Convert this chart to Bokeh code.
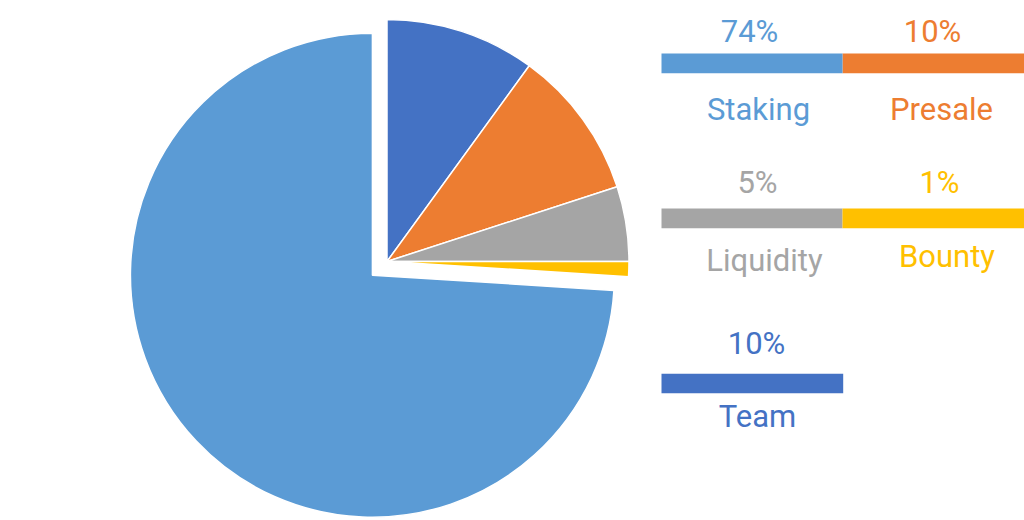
import numpy as np
from bokeh.plotting import figure
from bokeh.models import ColumnDataSource, Range1d
from bokeh.core.properties import value
from bokeh.embed import file_html
from bokeh.resources import INLINE

# ---- data ----
categories = ["Team", "Presale", "Liquidity", "Bounty", "Staking"]
shares = [10, 10, 5, 1, 74]
pct_labels = ["10%", "10%", "5%", "1%", "74%"]
colors = ["#4472C4", "#ED7D31", "#A5A5A5", "#FFC000", "#5B9BD5"]
explode = [0, 0, 0, 0, 20]

# ---- layout (screen pixels, converted below) ----
W, H = 1024, 520
TEXT_SHIFT = 10  # compensation for svg baseline placement

def sx(x):
    return x
def sy(y):
    return H - y

pie_cx, pie_cy, pie_r = 386.5, 261.0, 242.0

bar_box = {
    "Staking":   (661, 842, 53, 72.7),
    "Presale":   (842, 1024, 53, 72.7),
    "Liquidity": (661, 842, 208, 227.7),
    "Bounty":    (842, 1024, 208, 227.7),
    "Team":      (661, 842.7, 373.3, 392.7),
}
val_pos = {
    "Staking": (749, 40.7), "Presale": (932, 40.7),
    "Liquidity": (757, 192.3), "Bounty": (939, 192.3),
    "Team": (756, 353.3),
}
lab_pos = {
    "Staking": (758, 119.3), "Presale": (941, 119.3),
    "Liquidity": (764, 270.0), "Bounty": (946.5, 266.0),
    "Team": (757, 426.0),
}

# ---- pie geometry from the data ----
frac = np.array(shares, dtype=float) / sum(shares)
cw_end = np.cumsum(frac) * 2 * np.pi
cw_start = cw_end - frac * 2 * np.pi
mid = (cw_start + cw_end) / 2
cx = sx(pie_cx) + np.array(explode) * np.sin(mid)
cy = sy(pie_cy) + np.array(explode) * np.cos(mid)
start_angle = np.pi / 2 - cw_end
end_angle = np.pi / 2 - cw_start

pie_src = ColumnDataSource(dict(x=cx, y=cy, start=start_angle, end=end_angle,
                                color=colors, cat=categories))

p = figure(width=W, height=H, x_range=Range1d(0, W), y_range=Range1d(0, H),
           output_backend="svg", toolbar_location=None,
           x_axis_type=None, y_axis_type=None, min_border=0,
           outline_line_color=None)
p.xgrid.visible = False
p.ygrid.visible = False

p.wedge(x="x", y="y", radius=pie_r, start_angle="start", end_angle="end",
        direction="anticlock", fill_color="color", line_color="white",
        line_width=1.5, source=pie_src)

# ---- legend bars and texts ----
bl, br, bt, bb, vx, vy, lx, ly = [], [], [], [], [], [], [], []
for c in categories:
    l, r, t, b = bar_box[c]
    bl.append(sx(l)); br.append(sx(r)); bt.append(sy(t)); bb.append(sy(b))
    vx.append(sx(val_pos[c][0])); vy.append(sy(val_pos[c][1] - TEXT_SHIFT))
    lx.append(sx(lab_pos[c][0])); ly.append(sy(lab_pos[c][1] - TEXT_SHIFT))

leg_src = ColumnDataSource(dict(left=bl, right=br, top=bt, bottom=bb,
                                vx=vx, vy=vy, lx=lx, ly=ly,
                                pct=pct_labels, cat=categories, color=colors))

p.quad(left="left", right="right", top="top", bottom="bottom",
       fill_color="color", line_color=None, source=leg_src)

font = value("Roboto")
p.text(x="vx", y="vy", text="pct", text_color="color", text_font=font,
       text_font_size="31px", text_align="center", text_baseline="alphabetic",
       source=leg_src)
p.text(x="lx", y="ly", text="cat", text_color="color", text_font=font,
       text_font_size="31px", text_align="center", text_baseline="alphabetic",
       source=leg_src)

open("out.html", "w").write(file_html(p, INLINE))
